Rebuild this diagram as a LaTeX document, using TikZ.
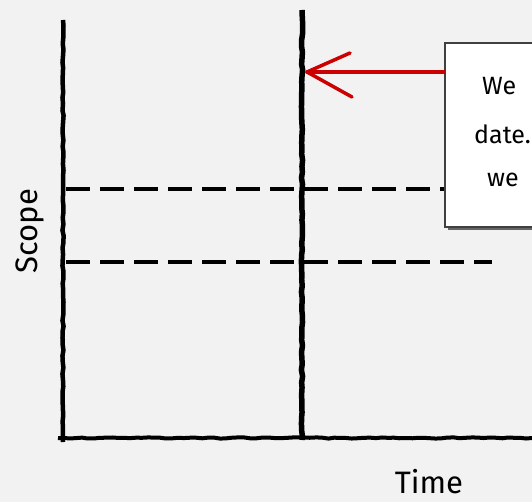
\documentclass[tikz,border=0pt]{standalone}
\usepackage{fontspec}
\setmainfont{Fira Sans}
\usetikzlibrary{decorations.pathmorphing}
\begin{document}
\begin{tikzpicture}[x=1pt,y=-1pt,
  sketch/.style={draw=black,line width=4.5pt,decorate,decoration={random steps,segment length=6pt,amplitude=0.6pt}},
  dashline/.style={draw=black,line width=4pt,dash pattern=on 24pt off 10pt},
  redline/.style={draw=red!80!black,line width=3.5pt,line cap=round},
  lbl/.style={font=\fontsize{31}{36}\selectfont,inner sep=0pt},
  boxtxt/.style={font=\fontsize{25}{30}\selectfont,inner sep=0pt,anchor=west}]
\fill[black!5] (0,0) rectangle (532,502);
\useasboundingbox (0,0) rectangle (532,502);
\clip (0,0) rectangle (532,502);
% axes
\coordinate (y1top) at (63,20);
\coordinate (y1bot) at (63,442);
\coordinate (y2top) at (302,10);
\coordinate (y2bot) at (302,440);
\coordinate (xl) at (58,438);
\coordinate (xr) at (532,438);
\draw[sketch] (y1top) -- (y1bot);
\draw[sketch,line width=5.5pt] (y2top) -- (y2bot);
\draw[sketch,line width=4pt] (xl) -- (xr);
% dashed scope lines
\coordinate (d1a) at (66,189);
\coordinate (d1b) at (446,189);
\coordinate (d2a) at (66,262);
\coordinate (d2b) at (492,262);
\draw[dashline] (d1a) -- (d1b);
\draw[dashline] (d2a) -- (d2b);
% note box
\fill[black!60] (448,47) rectangle (560,230);
\node[draw=black!75,line width=2pt,fill=white,minimum width=112pt,minimum height=184pt,anchor=north west,inner sep=0pt] (note) at (444,42) {};
\node[boxtxt] (t1) at (482,86) {We};
\node[boxtxt] (t2) at (474,134) {date.};
\node[boxtxt] (t3) at (487,180) {we};
% red arrow
\coordinate (tip) at (307,72);
\coordinate (h1) at (350,53);
\coordinate (h2) at (352,97);
\draw[redline] (note.west |- tip) -- (tip);
\draw[redline] (tip) -- (h1);
\draw[redline] (tip) -- (h2);
% labels
\node[lbl,rotate=90] (scope) at (30,231) {Scope};
\node[lbl] (time) at (429,482) {Time};
\end{tikzpicture}
\end{document}
